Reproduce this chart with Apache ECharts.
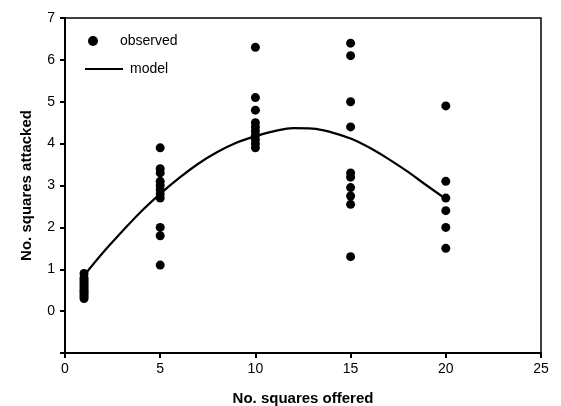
<!DOCTYPE html>
<html>
<head>
<meta charset="utf-8">
<script src="https://cdn.jsdelivr.net/npm/echarts@6/dist/echarts.min.js"></script>
<style>
  html, body { margin: 0; padding: 0; background: #fff; }
  #chart { width: 561px; height: 406px; }
</style>
</head>
<body>
<div id="chart"></div>
<script>
// observed: x = squares offered, y = squares attacked
const obsX1 = 1;
const obsY1 = [0.9, 0.8, 0.75, 0.7, 0.65, 0.6, 0.55, 0.5, 0.45, 0.4, 0.35, 0.3];
const obsX5 = 5;
const obsY5 = [3.9, 3.4, 3.3, 3.1, 3.0, 2.9, 2.8, 2.7, 2.0, 1.8, 1.1];
const obsX10 = 10;
const obsY10 = [6.3, 5.1, 4.8, 4.5, 4.4, 4.3, 4.2, 4.1, 4.0, 3.9];
const obsX15 = 15;
const obsY15 = [6.4, 6.1, 5.0, 4.4, 3.3, 3.2, 2.95, 2.75, 2.55, 1.3];
const obsX20 = 20;
const obsY20 = [4.9, 3.1, 2.7, 2.4, 2.0, 1.5];

// model curve
const modelX = [1, 2, 3, 4, 5, 6, 7, 8, 9, 10, 11, 12, 13, 14, 15, 16, 17, 18, 19, 20];
const modelY = [0.85, 1.4, 1.9, 2.38, 2.8, 3.18, 3.52, 3.8, 4.02, 4.18, 4.3, 4.37, 4.36, 4.27, 4.12, 3.9, 3.63, 3.33, 3.0, 2.68];

const yTicks = [0, 1, 2, 3, 4, 5, 6, 7];

const groups = [
  [obsX1, obsY1], [obsX5, obsY5], [obsX10, obsY10], [obsX15, obsY15], [obsX20, obsY20]
];
const observed = [];
groups.forEach(([x, ys]) => ys.forEach((y) => observed.push([x, y])));
const model = modelX.map((x, i) => [x, modelY[i]]);

const chart = echarts.init(document.getElementById("chart"));
const font = "Arial, 'Liberation Sans', sans-serif";

const option = {
  animation: false,
  backgroundColor: "#fff",
  textStyle: { fontFamily: font, color: "#000" },
  grid: {
    left: 65, right: 20, top: 18, bottom: 53,
    outerBoundsMode: "none",
    containLabel: false,
    show: true, borderColor: "#000", borderWidth: 1.5
  },
  legend: [
    {
      data: [{ name: "observed", icon: "circle" }],
      left: 88, top: 34, padding: 0,
      itemWidth: 10, itemHeight: 10,
      textStyle: { fontSize: 14, color: "#000", fontFamily: font, padding: [0, 0, 0, 17] }
    },
    {
      data: [{ name: "model", icon: "rect" }],
      left: 85, top: 62, padding: 0,
      itemWidth: 38, itemHeight: 2,
      textStyle: { fontSize: 14, color: "#000", fontFamily: font, padding: [0, 0, 0, 2] }
    }
  ],
  xAxis: {
    type: "value", min: 0, max: 25, interval: 5,
    name: "No. squares offered", nameLocation: "middle", nameGap: 38,
    nameTextStyle: { fontWeight: "bold", fontSize: 15, color: "#000", fontFamily: font },
    axisLine: { onZero: false, lineStyle: { color: "#000", width: 2 } },
    axisTick: { show: true, inside: false, length: 5, lineStyle: { color: "#000", width: 2 } },
    axisLabel: { fontSize: 14, color: "#000", margin: 9 },
    splitLine: { show: false }
  },
  yAxis: {
    type: "value", min: -1, max: 7, interval: 1,
    name: "No. squares attacked", nameLocation: "middle", nameGap: 31,
    nameTextStyle: { fontWeight: "bold", fontSize: 15, color: "#000", fontFamily: font },
    axisLine: { onZero: false, lineStyle: { color: "#000", width: 2 } },
    axisTick: { show: true, inside: false, length: 5, lineStyle: { color: "#000", width: 2 } },
    axisLabel: {
      fontSize: 14, color: "#000", margin: 10,
      formatter: (v) => (yTicks.includes(v) ? String(v) : "")
    },
    splitLine: { show: false }
  },
  series: [
    {
      name: "observed",
      type: "scatter",
      data: observed,
      symbol: "circle",
      symbolSize: 9,
      itemStyle: { color: "#000", opacity: 1 }
    },
    {
      name: "model",
      type: "line",
      data: model,
      smooth: 0.4,
      showSymbol: false,
      lineStyle: { color: "#000", width: 2.2 },
      itemStyle: { color: "#000" }
    }
  ]
};

chart.setOption(option);
</script>
</body>
</html>
